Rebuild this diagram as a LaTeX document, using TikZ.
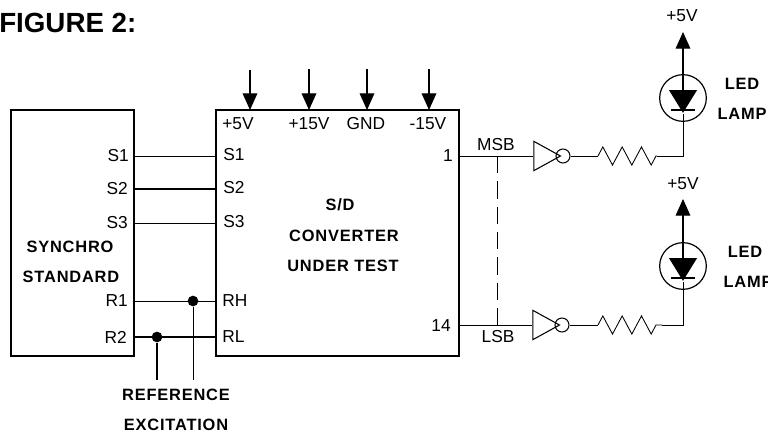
\documentclass[tikz,border=0pt]{standalone}
\usepackage{fontspec}
\setmainfont{Liberation Sans}
\newfontfamily\capsfont[LetterSpace=5]{Liberation Sans}
\usepackage{tikz}
\usetikzlibrary{arrows.meta}
\usetikzlibrary{decorations.pathmorphing}
\usetikzlibrary{shapes.geometric}

\tikzset{
	wire/.style={line width=0.65pt},
	blockbox/.style={draw, line width=1.1pt, inner sep=0pt},
	pinlabel/.style={font=\fontsize{13}{15}\selectfont, inner sep=0pt},
	titlelabel/.style={font=\capsfont\bfseries\fontsize{12.3}{14}\selectfont, inner sep=0pt},
	supply/.style={line width=0.9pt, -{Triangle[length=12.5pt,width=11pt]}},
	dotnode/.style={circle, fill, inner sep=0pt, minimum size=8pt},
	ledring/.style={circle, draw, line width=0.9pt, inner sep=0pt, minimum size=35pt},
	ledhead/.style={isosceles triangle, shape border rotate=-90, isosceles triangle stretches, fill, inner sep=0pt, minimum width=21pt, minimum height=17pt},
	invbody/.style={isosceles triangle, isosceles triangle stretches, draw, line width=0.8pt, inner sep=0pt, minimum width=22pt, minimum height=20pt},
	invdot/.style={circle, draw, line width=0.8pt, inner sep=0pt, minimum size=10.5pt},
	zigzagwire/.style={wire, decorate, decoration={zigzag, amplitude=6.8pt, segment length=14.5pt}},
}

\begin{document}
\begin{tikzpicture}[x=0.75pt, y=-0.75pt]

	\useasboundingbox (0,0) rectangle (768,432);

	\node[font=\bfseries\fontsize{20.8}{24}\selectfont, anchor=west, inner sep=0pt] (FIG) at (-1,23) {FIGURE 2:};

	% The two blocks, given by their centres
	\node[blockbox, minimum width=92.25pt, minimum height=184.5pt] (SS) at (72.5,233) {};
	\node[blockbox, minimum width=182.25pt, minimum height=184.5pt] (DC) at (337.5,233) {};

	\node[titlelabel] (SS1) at (70,247) {SYNCHRO};
	\node[titlelabel] (SS2) at (71,277) {STANDARD};
	\node[titlelabel] (DC1) at (340,205) {S/D};
	\node[titlelabel] (DC2) at (344,236) {CONVERTER};
	\node[titlelabel] (DC3) at (343,266) {UNDER TEST};

	% Pins on the synchro side
	\coordinate (A1) at (134,156);
	\coordinate (A2) at (134,189);
	\coordinate (A3) at (134,223);
	\coordinate (A4) at (134,301);
	\coordinate (A5) at (134,337);
	\coordinate (B1) at (216,156);
	\coordinate (B2) at (216,189);
	\coordinate (B3) at (216,223);
	\coordinate (B4) at (216,301);
	\coordinate (B5) at (216,337);

	\node[pinlabel, anchor=east] (LS1) at (129,156) {S1};
	\node[pinlabel, anchor=east] (LS2) at (128,189) {S2};
	\node[pinlabel, anchor=east] (LS3) at (128,223) {S3};
	\node[pinlabel, anchor=east] (LR1) at (128,301) {R1};
	\node[pinlabel, anchor=east] (LR2) at (127,337) {R2};
	\node[pinlabel, anchor=west] (RS1) at (223,155) {S1};
	\node[pinlabel, anchor=west] (RS2) at (223,188) {S2};
	\node[pinlabel, anchor=west] (RS3) at (223,222) {S3};
	\node[pinlabel, anchor=west] (RH) at (222,301) {RH};
	\node[pinlabel, anchor=west] (RL) at (222,337) {RL};

	\draw[wire] (A1) -- (B1);
	\draw[wire, line width=1pt] (A2) -- (B2);
	\draw[wire] (A3) -- (B3);
	\draw[wire] (A4) -- (B4);
	\draw[wire, line width=0.9pt] (A5) -- (B5);

	% Reference excitation tap
	\node[dotnode] (D1) at (193,301) {};
	\node[dotnode] (D2) at (157,337) {};
	\coordinate (E1) at (193,380);
	\coordinate (E2) at (157,380);
	\draw[wire] (D1) -- (E1);
	\draw[wire, line width=1pt] (D2) -- (E2);
	\node[titlelabel] (REF) at (176,395) {REFERENCE};
	\node[titlelabel] (EXC) at (176,425) {EXCITATION};

	% Supplies entering from above
	\coordinate (P1) at (250,70);
	\coordinate (P2) at (309,69);
	\coordinate (P3) at (367,69);
	\coordinate (P4) at (429,69);
	\coordinate (Q1) at (250,110);
	\coordinate (Q2) at (309,110);
	\coordinate (Q3) at (367,110);
	\coordinate (Q4) at (429,110);
	\draw[supply] (P1) -- (Q1);
	\draw[supply] (P2) -- (Q2);
	\draw[supply] (P3) -- (Q3);
	\draw[supply] (P4) -- (Q4);
	\node[pinlabel] (V1) at (238,124) {+5V};
	\node[pinlabel] (V2) at (309,124) {+15V};
	\node[pinlabel] (V3) at (366,124) {GND};
	\node[pinlabel] (V4) at (428,124) {-15V};

	% Output bits
	\node[pinlabel, anchor=east] (N1) at (453,156) {1};
	\node[pinlabel, anchor=east] (N2) at (451,326) {14};
	\node[pinlabel] (MSB) at (496,145) {MSB};
	\node[pinlabel] (LSB) at (498,337) {LSB};
	\coordinate (O1) at (459,156);
	\coordinate (O2) at (459,325);
	\coordinate (T1) at (497,156);
	\coordinate (T2) at (497,325);
	\draw[wire, dash pattern=on 13pt off 6pt] (T1) -- (T2);

	% Upper lamp
	\node[invbody] (I1) at (542.5,156) {};
	\node[invdot] (C1) at (563,156) {};
	\coordinate (R1A) at (598,156);
	\coordinate (R1B) at (657,156);
	\coordinate (K1) at (683,156);
	\node[ledring] (L1) at (683,98) {};
	\node[ledhead] (H1) at (683,98) {};
	\coordinate (G1) at (671,110);
	\coordinate (G2) at (695,110);
	\coordinate (W1) at (683,32);
	\draw[wire] (O1) -- (I1.west);
	\draw[wire] (C1) -- (R1A);
	\draw[zigzagwire] (R1A) -- (R1B);
	\draw[wire] (R1B) -- (K1) -- (L1.south);
	\draw[wire] (L1.south) -- (H1.south);
	\draw[wire, line width=1pt] (G1) -- (G2);
	\draw[supply] (H1) -- (W1);
	\node[pinlabel] (S1) at (682,16) {+5V};
	\node[titlelabel] (T11) at (742,84) {LED};
	\node[titlelabel] (T12) at (742,114) {LAMP};

	% Lower lamp
	\node[invbody] (I2) at (541.5,325) {};
	\node[invdot] (C2) at (562,325) {};
	\coordinate (R2A) at (598,325);
	\coordinate (R2B) at (662,325);
	\coordinate (K2) at (683,325);
	\node[ledring] (L2) at (683,266) {};
	\node[ledhead] (H2) at (683,266) {};
	\coordinate (G3) at (671,278);
	\coordinate (G4) at (695,278);
	\coordinate (W2) at (683,199);
	\draw[wire] (O2) -- (I2.west);
	\draw[wire] (C2) -- (R2A);
	\draw[zigzagwire] (R2A) -- (R2B);
	\draw[wire] (R2B) -- (K2) -- (L2.south);
	\draw[wire] (L2.south) -- (H2.south);
	\draw[wire, line width=1pt] (G3) -- (G4);
	\draw[supply] (H2) -- (W2);
	\node[pinlabel] (S2) at (683,184) {+5V};
	\node[titlelabel] (T21) at (745,252) {LED};
	\node[titlelabel] (T22) at (748,282) {LAMP};

\end{tikzpicture}
\end{document}
